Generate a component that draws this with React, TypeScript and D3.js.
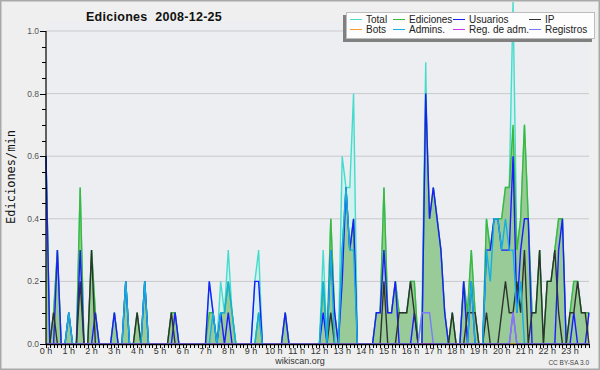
import React from "react";
import * as d3 from "d3";

// ---------- data (10-minute buckets, edits per minute) ----------
const hourLabels = [
  "0 h", "1 h", "2 h", "3 h", "4 h", "5 h", "6 h", "7 h", "8 h", "9 h", "10 h", "11 h",
  "12 h", "13 h", "14 h", "15 h", "16 h", "17 h", "18 h", "19 h", "20 h", "21 h", "22 h", "23 h",
];
const yTickValues = [0, 0.2, 0.4, 0.6, 0.8, 1.0];
const yTickLabels = ["0.0", "0.2", "0.4", "0.6", "0.8", "1.0"];
const seriesNames = ["Total", "Ediciones", "Usuarios", "IP", "Bots", "Admins.", "Reg. de adm.", "Registros"];

const total = [
  0.6, 0, 0.1, 0.3, 0, 0,
  0.1, 0, 0, 0.5, 0, 0,
  0.3, 0.1, 0, 0, 0, 0,
  0.1, 0, 0, 0.2, 0, 0,
  0.1, 0, 0.2, 0, 0, 0,
  0, 0, 0, 0.1, 0.1, 0,
  0, 0, 0, 0, 0, 0,
  0, 0.2, 0.1, 0, 0.2, 0.1,
  0.3, 0.1, 0, 0, 0, 0,
  0, 0.2, 0.3, 0, 0, 0,
  0, 0, 0, 0.1, 0, 0,
  0, 0, 0, 0, 0, 0,
  0, 0.3, 0, 0.4, 0.1, 0,
  0.6, 0.5, 0.5, 0.8, 0, 0,
  0, 0, 0, 0.1, 0.1, 0.5,
  0.1, 0.1, 0.2, 0.1, 0.1, 0.1,
  0.2, 0.2, 0, 0.1, 0.9, 0.1,
  0.5, 0.4, 0.3, 0.1, 0, 0.1,
  0, 0, 0.2, 0.1, 0.3, 0.1,
  0, 0, 0.4, 0.3, 0.4, 0.4,
  0.4, 0.5, 0.5, 1.1, 0.3, 0.4,
  0.7, 0.4, 0.1, 0.1, 0.3, 0,
  0.2, 0.2, 0.3, 0.4, 0.4, 0,
  0.1, 0.2, 0.2, 0.1, 0.1, 0.1,
];

const ediciones = [
  0.6, 0, 0.1, 0.3, 0, 0,
  0.1, 0, 0, 0.5, 0, 0,
  0.3, 0.1, 0, 0, 0, 0,
  0.1, 0, 0, 0.2, 0, 0,
  0.1, 0, 0.2, 0, 0, 0,
  0, 0, 0, 0.1, 0.1, 0,
  0, 0, 0, 0, 0, 0,
  0, 0.1, 0.1, 0, 0.1, 0.1,
  0.2, 0.1, 0, 0, 0, 0,
  0, 0, 0.1, 0, 0, 0,
  0, 0, 0, 0.1, 0, 0,
  0, 0, 0, 0, 0, 0,
  0, 0.2, 0, 0.4, 0.1, 0,
  0.3, 0.5, 0.3, 0.4, 0, 0,
  0, 0, 0, 0.1, 0.1, 0.5,
  0.1, 0.1, 0.2, 0.1, 0.1, 0.1,
  0.2, 0.2, 0, 0, 0.8, 0.4,
  0.5, 0.4, 0.3, 0.1, 0, 0.1,
  0, 0, 0.2, 0.1, 0.3, 0.1,
  0, 0, 0.4, 0.3, 0.4, 0.4,
  0.4, 0.5, 0.5, 0.7, 0.3, 0.4,
  0.7, 0.4, 0.1, 0.1, 0.3, 0,
  0.2, 0.2, 0.3, 0.4, 0.4, 0,
  0.1, 0.2, 0.2, 0.1, 0.1, 0.1,
];

const usuarios = [
  0.6, 0, 0, 0.3, 0, 0,
  0.1, 0, 0, 0.3, 0, 0,
  0, 0.1, 0, 0, 0, 0,
  0.1, 0, 0, 0.2, 0, 0,
  0, 0, 0.2, 0, 0, 0,
  0, 0, 0, 0, 0.1, 0,
  0, 0, 0, 0, 0, 0,
  0, 0.2, 0.1, 0, 0.1, 0,
  0.1, 0, 0, 0, 0, 0,
  0, 0.2, 0.2, 0, 0, 0,
  0, 0, 0, 0.1, 0, 0,
  0, 0, 0, 0, 0, 0,
  0, 0.1, 0, 0.3, 0.1, 0,
  0.2, 0.5, 0.3, 0.4, 0, 0,
  0, 0, 0, 0.1, 0.1, 0.3,
  0.1, 0.1, 0.2, 0, 0, 0,
  0, 0.1, 0, 0, 0.8, 0.4,
  0.5, 0.4, 0.3, 0.1, 0, 0,
  0, 0, 0.2, 0, 0.2, 0,
  0, 0, 0.3, 0.3, 0.4, 0.4,
  0.3, 0.3, 0.3, 0.6, 0.1, 0.3,
  0.4, 0.4, 0, 0, 0, 0,
  0, 0, 0, 0.3, 0.4, 0,
  0, 0.1, 0, 0, 0, 0.1,
];

const ip = [
  0, 0, 0.1, 0, 0, 0,
  0, 0, 0, 0.2, 0, 0,
  0.3, 0, 0, 0, 0, 0,
  0, 0, 0, 0, 0, 0,
  0.1, 0, 0, 0, 0, 0,
  0, 0, 0, 0.1, 0, 0,
  0, 0, 0, 0, 0, 0,
  0, 0, 0, 0, 0, 0,
  0, 0, 0, 0, 0, 0,
  0, 0, 0, 0, 0, 0,
  0, 0, 0, 0, 0, 0,
  0, 0, 0, 0, 0, 0,
  0, 0, 0, 0.1, 0, 0,
  0, 0, 0, 0, 0, 0,
  0, 0, 0, 0, 0, 0.2,
  0, 0, 0, 0.1, 0.1, 0.1,
  0.2, 0.1, 0, 0, 0, 0,
  0, 0, 0, 0, 0, 0.1,
  0, 0, 0, 0.1, 0.1, 0.1,
  0, 0, 0.1, 0, 0, 0,
  0.1, 0.2, 0.1, 0.1, 0.2, 0.1,
  0.3, 0, 0.1, 0.1, 0.3, 0,
  0.2, 0.2, 0.3, 0.1, 0, 0,
  0.1, 0.1, 0.2, 0.1, 0.1, 0,
];

const bots = [
  0, 0, 0, 0, 0, 0, 0, 0, 0, 0, 0, 0, 0, 0, 0, 0, 0, 0, 0, 0, 0, 0, 0, 0,
  0, 0, 0, 0, 0, 0, 0, 0, 0, 0, 0, 0, 0, 0, 0, 0, 0, 0, 0, 0, 0, 0, 0, 0,
  0, 0, 0, 0, 0, 0, 0, 0, 0, 0, 0, 0, 0, 0, 0, 0, 0, 0, 0, 0, 0, 0, 0, 0,
  0, 0, 0, 0, 0, 0, 0, 0, 0, 0, 0, 0, 0, 0, 0, 0, 0, 0, 0, 0, 0, 0, 0, 0,
  0, 0, 0, 0, 0, 0, 0, 0, 0, 0, 0, 0, 0, 0, 0, 0, 0, 0, 0, 0, 0, 0, 0, 0,
  0, 0, 0, 0, 0, 0, 0, 0, 0, 0, 0, 0, 0, 0, 0, 0, 0, 0, 0, 0, 0, 0, 0, 0,
];

const admins = [
  0, 0, 0, 0, 0, 0,
  0.1, 0, 0, 0, 0, 0,
  0, 0, 0, 0, 0, 0,
  0, 0, 0, 0.2, 0, 0,
  0, 0, 0.2, 0, 0, 0,
  0, 0, 0, 0, 0, 0,
  0, 0, 0, 0, 0, 0,
  0, 0, 0.1, 0, 0.1, 0.1,
  0.2, 0.1, 0, 0, 0, 0,
  0, 0, 0.1, 0, 0, 0,
  0, 0, 0, 0, 0, 0,
  0, 0, 0, 0, 0, 0,
  0, 0.2, 0, 0.3, 0, 0,
  0.3, 0.5, 0.3, 0.3, 0, 0,
  0, 0, 0, 0, 0, 0,
  0, 0, 0, 0, 0, 0,
  0, 0, 0, 0, 0, 0,
  0, 0, 0, 0, 0, 0,
  0, 0, 0, 0, 0.2, 0,
  0, 0, 0.3, 0.2, 0.4, 0.4,
  0.3, 0.4, 0.3, 0.3, 0.1, 0.2,
  0, 0, 0, 0, 0, 0,
  0, 0, 0, 0, 0, 0,
  0, 0, 0, 0, 0, 0,
];

const regAdm = [
  0, 0, 0, 0, 0, 0, 0, 0, 0, 0, 0, 0, 0, 0, 0, 0, 0, 0, 0, 0, 0, 0, 0, 0,
  0, 0, 0, 0, 0, 0, 0, 0, 0, 0, 0, 0, 0, 0, 0, 0, 0, 0, 0, 0, 0, 0, 0, 0,
  0, 0, 0, 0, 0, 0, 0, 0, 0, 0, 0, 0, 0, 0, 0, 0, 0, 0, 0, 0, 0, 0, 0, 0,
  0, 0, 0, 0, 0, 0, 0, 0, 0, 0, 0, 0, 0, 0, 0, 0, 0, 0, 0, 0, 0, 0, 0, 0,
  0, 0, 0, 0, 0, 0, 0, 0, 0, 0, 0, 0, 0, 0, 0, 0, 0, 0, 0, 0, 0, 0, 0, 0,
  0, 0, 0, 0.1, 0, 0, 0, 0, 0, 0, 0, 0, 0, 0, 0, 0, 0, 0, 0, 0, 0, 0, 0, 0,
];

const registros = [
  0, 0, 0, 0, 0, 0, 0, 0, 0, 0, 0, 0, 0, 0, 0, 0, 0, 0, 0, 0, 0, 0, 0, 0,
  0, 0, 0, 0, 0, 0, 0, 0, 0, 0, 0, 0, 0, 0, 0, 0, 0, 0, 0, 0, 0, 0, 0, 0,
  0, 0, 0, 0, 0, 0, 0, 0, 0, 0, 0, 0, 0, 0, 0, 0, 0, 0, 0, 0, 0, 0, 0, 0,
  0, 0, 0, 0, 0, 0, 0, 0, 0, 0, 0, 0, 0, 0, 0, 0, 0, 0, 0, 0, 0, 0, 0, 0,
  0, 0, 0, 0.1, 0.1, 0.1, 0, 0, 0, 0, 0, 0, 0, 0, 0, 0, 0, 0, 0, 0, 0, 0, 0, 0,
  0, 0, 0, 0.1, 0, 0, 0, 0, 0, 0, 0, 0, 0, 0, 0, 0, 0, 0, 0, 0, 0, 0, 0, 0,
];

// ---------- styling ----------
const COLORS: Record<string, string> = {
  Total: "#45dccd",
  Ediciones: "#3cb83c",
  Usuarios: "#1c1cff",
  IP: "#2e332e",
  Bots: "#ff9a30",
  "Admins.": "#14b0e2",
  "Reg. de adm.": "#cc33ee",
  Registros: "#7a7aff",
};

const W = 600;
const H = 370;
const X0 = 46;
const X1 = 589;
const Y0 = 344;
const Y1 = 31;

export default function App() {
  const n = total.length;
  const x = d3.scaleLinear().domain([0, n - 1]).range([X0, X1]);
  const y = d3.scaleLinear().domain([0, 1]).range([Y0, Y1]);

  const line = d3
    .line<number>()
    .x((_, i) => x(i))
    .y((d) => Math.max(2, y(d)));
  const area = d3
    .area<number>()
    .x((_, i) => x(i))
    .y0(Y0)
    .y1((d) => Math.max(2, y(d)));

  const lineOrder: [string, number[]][] = [
    ["Usuarios", usuarios],
    ["IP", ip],
    ["Bots", bots],
    ["Admins.", admins],
    ["Reg. de adm.", regAdm],
    ["Registros", registros],
  ];

  const minorY = d3.range(0, 21).map((k) => k * 0.05);
  const minorX = d3.range(0, n);

  const legendCols = [350, 393, 453, 529];
  const legendRows = [19, 29];

  return (
    <svg
      width={W}
      height={H}
      style={{ position: "absolute", left: 0, top: 0, display: "block" }}
      fontFamily="'Liberation Sans', Arial, sans-serif"
    >
      <rect x={0.5} y={0.5} width={W - 1} height={H - 1} fill="#efefef" stroke="#a9a9a9" strokeWidth={2} />
      <rect x={X0} y={Y1 - 9} width={X1 - X0} height={Y0 - Y1 + 9} fill="#edeef1" />

      {/* grid */}
      {yTickValues.map((v) => (
        <line key={"g" + v} x1={X0} x2={X1} y1={y(v)} y2={y(v)} stroke="#c9c9cc" strokeWidth={1} />
      ))}

      {/* areas */}
      <path d={area(total) || ""} fill="#d3f1ee" />
      <path d={line(total) || ""} fill="none" stroke={COLORS.Total} strokeWidth={1.4} />
      <path d={area(ediciones) || ""} fill="#98cb98" />
      <path d={line(ediciones) || ""} fill="none" stroke={COLORS.Ediciones} strokeWidth={1.4} />

      {lineOrder.map(([name, vals]) => (
        <path key={name} d={line(vals) || ""} fill="none" stroke={COLORS[name]} strokeWidth={1.4} />
      ))}

      {/* y axis */}
      <line x1={X0} x2={X0} y1={Y1} y2={Y0} stroke="#000" strokeWidth={1.2} />
      {minorY.map((v, k) => (
        <line
          key={"yt" + k}
          x1={X0 - (k % 4 === 0 ? 6 : 4)}
          x2={X0}
          y1={Math.round(y(v)) + 0.5}
          y2={Math.round(y(v)) + 0.5}
          stroke="#000"
          strokeWidth={1}
        />
      ))}
      {yTickValues.map((v, k) => (
        <text key={"yl" + k} x={X0 - 7} y={y(v) + 3} textAnchor="end" fontSize={8.5} fill="#555">
          {yTickLabels[k]}
        </text>
      ))}

      {/* x axis */}
      <line x1={X0} x2={X1} y1={Y0 + 0.5} y2={Y0 + 0.5} stroke="#000" strokeWidth={1.4} />
      {minorX.map((i) => (
        <line
          key={"xt" + i}
          x1={Math.round(x(i)) + 0.5}
          x2={Math.round(x(i)) + 0.5}
          y1={Y0}
          y2={Y0 + 4}
          stroke="#000"
          strokeWidth={1}
        />
      ))}
      {hourLabels.map((lab, h) => (
        <text key={"xl" + h} x={x(h * 6)} y={354} textAnchor="middle" fontSize={9} fill="#333">
          {lab}
        </text>
      ))}

      {/* titles */}
      <text
        x={154}
        y={21}
        textAnchor="middle"
        fontSize={12.5}
        fontWeight="bold"
        letterSpacing={0.3}
        fill="#111"
        style={{ whiteSpace: "pre" }}
      >
        {"Ediciones  2008-12-25"}
      </text>
      <text
        transform={`translate(15,177) rotate(-90)`}
        textAnchor="middle"
        fontSize={12}
        fontFamily="'DejaVu Sans Mono', monospace"
        fill="#111"
      >
        Ediciones/min
      </text>
      <text x={300} y={364} textAnchor="middle" fontSize={9} fill="#333">
        wikiscan.org
      </text>
      <text x={589} y={365} textAnchor="end" fontSize={6.5} fill="#444">
        CC BY-SA 3.0
      </text>

      {/* legend */}
      <rect x={343} y={15} width={249} height={27} fill="#808080" />
      <rect x={346.5} y={12.5} width={248} height={26} fill="#fdfdfd" stroke="#bdbdbd" strokeWidth={1} />
      {seriesNames.map((name, k) => {
        const col = k % 4;
        const row = Math.floor(k / 4);
        const lx = legendCols[col];
        const ly = legendRows[row];
        return (
          <g key={"lg" + name}>
            <line x1={lx} x2={lx + 12} y1={ly + 0.5} y2={ly + 0.5} stroke={COLORS[name]} strokeWidth={1} />
            <text x={lx + 16} y={ly + 3.5} fontSize={10} fill="#222">
              {name}
            </text>
          </g>
        );
      })}
    </svg>
  );
}
